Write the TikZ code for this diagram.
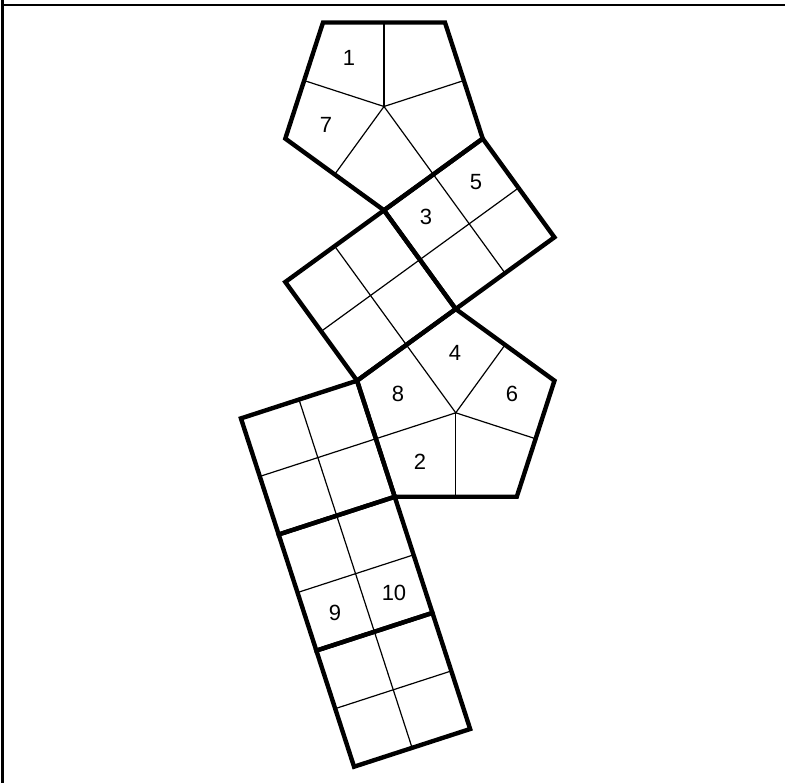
\documentclass[tikz,border=0pt]{standalone}
\usepackage{fontspec}
\setmainfont{Liberation Sans}
\usetikzlibrary{calc}
\begin{document}
\begin{tikzpicture}[x=1pt,y=-1pt,
  outline/.style={line width=4.4pt, line join=miter},
  thin/.style={line width=1.2pt},
  frameline/.style={line width=2.4pt},
  lab/.style={font=\fontsize{22}{22}\selectfont, inner sep=0pt}]
\useasboundingbox (0,0) rectangle (785,783);
% frame
\coordinate (F0) at (2.3,0);
\coordinate (F1) at (2.3,783);
\coordinate (F2) at (2.3,5.3);
\coordinate (F3) at (785,5.3);
% pentagon A
\coordinate (Ac) at (384,106.5);
\coordinate (A1) at (384,210.3);
\coordinate (A2) at (285.3,138.6);
\coordinate (A3) at (323,22.5);
\coordinate (A4) at (445,22.5);
\coordinate (A5) at (482.7,138.6);
% square B
\coordinate (B3) at (554.4,237.3);
\coordinate (B4) at (455.7,309);
% square C
\coordinate (C3) at (357.05,380.7);
\coordinate (C4) at (285.3,282);
% pentagon D
\coordinate (Dc) at (455.75,412.8);
\coordinate (D2) at (554.45,380.7);
\coordinate (D3) at (516.75,496.8);
\coordinate (D4) at (394.75,496.8);
% strip
\coordinate (P0) at (240.95,418.4);
\coordinate (P1) at (278.65,534.5);
\coordinate (P2) at (316.35,650.6);
\coordinate (P3) at (354.05,766.7);
\coordinate (Q1) at (394.75,496.8);
\coordinate (Q2) at (432.45,612.9);
\coordinate (Q3) at (470.15,729);

% thin lines: pentagon A spokes
\foreach \a/\b in {A1/A2,A2/A3,A3/A4,A4/A5}
  \draw[thin] (Ac) -- ($(\a)!0.5!(\b)$);
% spoke continuing into square B as its midline
\draw[thin] (Ac) -- ($(A5)!0.5!(A1)$) -- ($(B3)!0.5!(B4)$);
\draw[thin] ($(A5)!0.5!(B3)$) -- ($(A1)!0.5!(B4)$);
% square C midlines (one continues spoke of D)
\draw[thin] ($(A1)!0.5!(C4)$) -- ($(B4)!0.5!(C3)$) -- (Dc);
\draw[thin] ($(A1)!0.5!(B4)$) -- ($(C4)!0.5!(C3)$);
% pentagon D spokes
\foreach \a/\b in {B4/D2,D2/D3,D3/D4}
  \draw[thin] (Dc) -- ($(\a)!0.5!(\b)$);
\draw[thin] (Dc) -- ($(C3)!0.5!(D4)$) -- ($(P0)!0.5!(P1)$);
% strip midlines
\draw[thin] ($(P0)!0.5!(C3)$) -- ($(P3)!0.5!(Q3)$);
\draw[thin] ($(P1)!0.5!(P2)$) -- ($(Q1)!0.5!(Q2)$);
\draw[thin] ($(P2)!0.5!(P3)$) -- ($(Q2)!0.5!(Q3)$);

% thick outlines
\draw[outline] (A1) -- (A2) -- (A3) -- (A4) -- (A5) -- cycle;
\draw[outline] (A1) -- (A5) -- (B3) -- (B4) -- cycle;
\draw[outline] (A1) -- (B4) -- (C3) -- (C4) -- cycle;
\draw[outline] (B4) -- (D2) -- (D3) -- (D4) -- (C3) -- cycle;
\draw[outline] (C3) -- (Q1) -- (P1) -- (P0) -- cycle;
\draw[outline] (P1) -- (Q1) -- (Q2) -- (P2) -- cycle;
\draw[outline] (P2) -- (Q2) -- (Q3) -- (P3) -- cycle;

% frame
\draw[frameline] (F0) -- (F1);
\draw[frameline] (F2) -- (F3);

% labels
\node[lab] (l1) at (349,58) {1};
\node[lab] (l7) at (326,125) {7};
\node[lab] (l5) at (476,182) {5};
\node[lab] (l3) at (426,217) {3};
\node[lab] (l4) at (455,353) {4};
\node[lab] (l8) at (398,394) {8};
\node[lab] (l6) at (512,394) {6};
\node[lab] (l2) at (420,462) {2};
\node[lab] (l9) at (335,613) {9};
\node[lab] (l10) at (394,593) {10};
\end{tikzpicture}
\end{document}
